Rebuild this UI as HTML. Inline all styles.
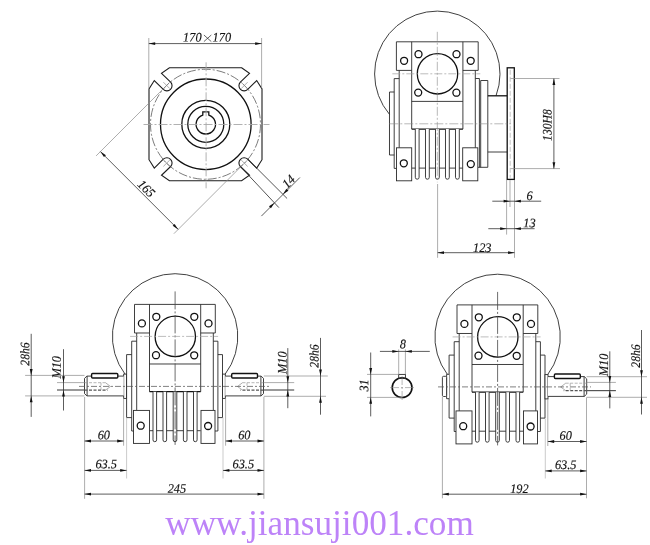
<!DOCTYPE html>
<html><head><meta charset="utf-8"><title>drawing</title>
<style>
html,body{margin:0;padding:0;background:#fff;}
body{width:650px;height:545px;overflow:hidden;position:relative;font-family:"Liberation Serif",serif;}
svg{position:absolute;left:0;top:0;will-change:transform;}
.k{fill:none;stroke:#2a2a2a;stroke-width:0.9;}
.kt{fill:none;stroke:#1c1c1c;stroke-width:1.1;}
.k2{fill:none;stroke:#2a2a2a;stroke-width:0.8;}
.kf{fill:#fff;stroke:#2a2a2a;stroke-width:0.9;}
.t{fill:none;stroke:#111;stroke-width:1.3;}
.tf{fill:#fff;stroke:#111;stroke-width:1.4;}
.t2{fill:none;stroke:#111;stroke-width:1.6;}
.x{fill:none;stroke:#222;stroke-width:0.7;}
.n{fill:none;stroke:#8a8a8a;stroke-width:0.7;}
.n2{fill:none;stroke:#b5b5b5;stroke-width:0.7;}
.m{fill:none;stroke:#555;stroke-width:1.2;}
.d{fill:none;stroke:#333;stroke-width:0.8;}
.a{fill:#111;stroke:none;}
.c{fill:none;stroke:#888;stroke-width:0.6;stroke-dasharray:9 2 2 2;}
.cv{fill:none;stroke:#484848;stroke-width:0.8;stroke-dasharray:18 2 2 2;}
.c2{fill:none;stroke:#a0a0a0;stroke-width:0.7;stroke-dasharray:8 2 2 2;}
.c3{fill:none;stroke:#a8a8a8;stroke-width:0.9;stroke-dasharray:9 2 2 2;}
.cw{fill:none;stroke:#555;stroke-width:0.75;stroke-dasharray:6 2 2 2;}
.cd{fill:none;stroke:#444;stroke-width:0.7;stroke-dasharray:9 2 2 2;}
.hd{fill:none;stroke:#aaa;stroke-width:0.7;stroke-dasharray:5 2;}
.hdl{fill:none;stroke:#999;stroke-width:0.7;stroke-dasharray:3 1.5;}
.hdk{fill:none;stroke:#555;stroke-width:1.1;stroke-dasharray:3 1.5;}
.hn{fill:none;stroke:#777;stroke-width:0.6;}
.tx{font-family:"Liberation Serif",serif;font-style:italic;fill:#111;stroke:#111;stroke-width:0.15;}
.wm{font-family:"Liberation Serif",serif;fill:#bd83f8;}
</style></head><body>
<svg width="650" height="545" viewBox="0 0 650 545">
<path class="kt" d="M241.60 67.80L249.50 73.30L240.35 82.10A5.2 5.2 0 0 0 247.70 89.45L256.70 80.50L262.00 88.90L262.00 159.70L256.70 168.10L247.70 159.15A5.2 5.2 0 0 0 240.35 166.50L249.50 175.30L241.60 180.80L169.40 180.80L161.50 175.30L170.65 166.50A5.2 5.2 0 0 0 163.30 159.15L154.30 168.10L149.00 159.70L149.00 88.90L154.30 80.50L163.30 89.45A5.2 5.2 0 0 0 170.65 82.10L161.50 73.30L169.40 67.80Z"/>
<circle class="cd" cx="205.50" cy="124.30" r="55.00"/>
<circle class="t" cx="205.80" cy="124.30" r="45.30"/>
<circle class="t" cx="205.80" cy="124.30" r="24.00"/>
<circle class="t" cx="205.80" cy="124.30" r="18.00"/>
<path class="t" d="M202.80 115.08L202.80 111.90L208.80 111.90L208.80 115.08A9.7 9.7 0 1 1 202.80 115.08Z"/>
<path class="c3" d="M206.10 62.30L206.10 188.30"/>
<path class="c3" d="M143.50 124.50L269.50 124.50"/>
<path class="n" d="M241.20 88.60L247.60 82.20"/>
<path class="n" d="M241.20 82.20L247.60 88.60"/>
<path class="n" d="M241.20 160.00L247.60 166.40"/>
<path class="n" d="M169.80 160.00L163.40 166.40"/>
<path class="n" d="M169.80 166.40L163.40 160.00"/>
<path class="n" d="M169.80 88.60L163.40 82.20"/>
<path class="n" d="M148.80 38.00L148.80 88.30"/>
<path class="n" d="M261.60 38.00L261.60 88.30"/>
<path class="d" d="M148.80 43.60L261.60 43.60"/>
<path class="a" d="M148.80 43.60L155.20 45.00L155.20 42.20Z"/>
<path class="a" d="M261.60 43.60L255.20 42.20L255.20 45.00Z"/>
<text class="tx" transform="translate(192.30 41.50) rotate(0.05) scale(0.95 1)" font-size="13.0" text-anchor="middle">170</text>
<text class="tx" transform="translate(221.80 41.50) rotate(0.05) scale(0.95 1)" font-size="13.0" text-anchor="middle">170</text>
<path class="x" d="M203.9 35.0L211.3 41.6M211.3 35.0L203.9 41.6"/>
<path class="n" d="M169.60 82.40L96.10 155.90"/>
<path class="n" d="M247.40 160.20L173.90 233.70"/>
<path class="d" d="M100.40 151.60L178.20 229.40"/>
<path class="a" d="M100.40 151.60L103.94 157.12L105.92 155.14Z"/>
<path class="a" d="M178.20 229.40L174.66 223.88L172.68 225.86Z"/>
<text class="tx" transform="translate(143.40 191.60) rotate(45.05) scale(0.95 1)" font-size="13.0" text-anchor="middle">165</text>
<path class="k2" d="M247.70 159.15L287.10 198.50"/>
<path class="k2" d="M240.35 166.50L278.90 207.60"/>
<path class="d" d="M261.40 216.10L299.90 177.50"/>
<path class="a" d="M282.90 194.30L288.42 190.76L286.44 188.78Z"/>
<path class="a" d="M274.50 202.70L268.98 206.24L270.96 208.22Z"/>
<text class="tx" transform="translate(291.60 184.60) rotate(-44.95) scale(0.95 1)" font-size="13.0" text-anchor="middle">14</text>
<g transform="translate(437.30 73.80)">
<path class="k" d="M-47.80 40.58A62.7 62.7 0 1 1 58.75 21.90"/>
<path class="k" d="M-25.60 -3.4L-40.90 -3.4L-40.90 -32L40.90 -32L40.90 -3.4L25.60 -3.4"/>
<path class="k" d="M-25.60 -32.00L-25.60 55.30"/>
<path class="k" d="M25.60 -32.00L25.60 55.30"/>
<path class="k" d="M-25.60 27.60L25.60 27.60"/>
<circle class="t" cx="0.20" cy="0.00" r="20.20"/>
<circle class="t" cx="-18.80" cy="-19.60" r="3.50"/>
<circle class="t" cx="19.20" cy="-19.60" r="3.50"/>
<circle class="t" cx="-33.20" cy="-13.00" r="3.50"/>
<circle class="t" cx="33.40" cy="-13.00" r="3.50"/>
<circle class="t" cx="-19.10" cy="18.80" r="3.50"/>
<circle class="t" cx="19.10" cy="18.90" r="3.50"/>
<path class="k" d="M-38.10 -3.40L-38.10 74.00"/>
<path class="k" d="M-38.10 4.8L-43.10 4.8L-43.10 94.6L-40.80 94.6"/>
<path class="k" d="M-43.10 18.2L-47.80 18.2L-47.80 81.2L-43.10 81.2"/>
<path class="k" d="M38.00 -3.40L38.00 74.00"/>
<path class="k" d="M38.0 4.7L42.1 4.7L42.1 93.5"/>
<path class="k" d="M43.4 93.5L43.4 6.7L50.5 6.7L50.5 93.5L40.5 93.5"/>
<path class="t" d="M50.50 22.00L69.80 22.00"/>
<path class="k" d="M50.50 78.20L69.80 78.20"/>
<rect class="t" x="69.90" y="-6.00" width="7.10" height="111.60"/>
<path class="hd" d="M72.90 -4.00L72.90 104.00"/>
<path class="t" d="M-25.60 55.30L25.60 55.30"/>
<path class="k" d="M-25.60 94.30L25.60 94.30"/>
<path class="kf" d="M-22.00 55.3L-22.00 103.5A1.9 1.9 0 0 0 -18.20 103.5L-18.20 55.3"/>
<path class="kf" d="M-11.80 55.3L-11.80 103.5A1.9 1.9 0 0 0 -8.00 103.5L-8.00 55.3"/>
<path class="kf" d="M-1.80 55.3L-1.80 103.5A1.9 1.9 0 0 0 2.00 103.5L2.00 55.3"/>
<path class="kf" d="M8.20 55.3L8.20 103.5A1.9 1.9 0 0 0 12.00 103.5L12.00 55.3"/>
<path class="kf" d="M18.20 55.3L18.20 103.5A1.9 1.9 0 0 0 22.00 103.5L22.00 55.3"/>
<rect class="kf" x="-40.80" y="74.00" width="15.20" height="33.00"/>
<rect class="kf" x="25.40" y="74.00" width="15.10" height="33.00"/>
<circle class="t" cx="-33.50" cy="89.50" r="3.50"/>
<circle class="t" cx="33.50" cy="90.30" r="3.50"/>
<path class="c" d="M0.00 -42.00L0.00 108.50"/>
<path class="c2" d="M-45.00 0.00L43.00 0.00"/>
</g>
<g transform="translate(175.10 336.40)">
<path class="k" d="M-50.00 37.83A62.7 62.7 0 1 1 50.00 37.83"/>
<path class="k" d="M-25.60 -3.4L-40.60 -3.4L-40.60 -32L40.20 -32L40.20 -3.4L25.60 -3.4"/>
<path class="k" d="M-25.60 -32.00L-25.60 55.30"/>
<path class="k" d="M25.60 -32.00L25.60 55.30"/>
<path class="k" d="M-25.60 27.60L25.60 27.60"/>
<circle class="t" cx="0.20" cy="0.00" r="20.20"/>
<circle class="t" cx="-18.80" cy="-19.60" r="3.50"/>
<circle class="t" cx="19.20" cy="-19.60" r="3.50"/>
<circle class="t" cx="-33.20" cy="-13.00" r="3.50"/>
<circle class="t" cx="33.40" cy="-13.00" r="3.50"/>
<circle class="t" cx="-19.10" cy="18.80" r="3.50"/>
<circle class="t" cx="19.10" cy="18.90" r="3.50"/>
<path class="k" d="M-38.40 -3.40L-38.40 74.00"/>
<path class="k" d="M-38.40 4.8L-43.40 4.8L-43.40 94.6L-41.60 94.6"/>
<path class="k" d="M-43.40 18.2L-48.50 18.2L-48.50 81.2L-43.40 81.2"/>
<path class="k" d="M38.20 -3.40L38.20 74.00"/>
<path class="k" d="M38.20 4.8L42.80 4.8L42.80 94.6L39.90 94.6"/>
<path class="k" d="M42.80 18.2L47.40 18.2L47.40 81.2L42.80 81.2"/>
<path class="t" d="M-25.60 55.30L25.60 55.30"/>
<path class="k" d="M-25.60 94.30L25.60 94.30"/>
<path class="kf" d="M-22.10 55.3L-22.10 103.5A1.8 1.8 0 0 0 -18.50 103.5L-18.50 55.3"/>
<path class="kf" d="M-12.10 55.3L-12.10 103.5A1.8 1.8 0 0 0 -8.50 103.5L-8.50 55.3"/>
<path class="kf" d="M-1.90 55.3L-1.90 103.5A1.8 1.8 0 0 0 1.70 103.5L1.70 55.3"/>
<path class="kf" d="M8.30 55.3L8.30 103.5A1.8 1.8 0 0 0 11.90 103.5L11.90 55.3"/>
<path class="kf" d="M18.40 55.3L18.40 103.5A1.8 1.8 0 0 0 22.00 103.5L22.00 55.3"/>
<rect class="kf" x="-41.60" y="74.00" width="16.00" height="33.00"/>
<rect class="kf" x="25.90" y="74.00" width="14.00" height="33.00"/>
<circle class="t" cx="-34.40" cy="89.30" r="3.50"/>
<circle class="t" cx="33.00" cy="89.60" r="3.50"/>
<path class="cv" d="M0.00 -45.00L0.00 108.50"/>
<path class="c2" d="M-45.00 0.00L43.00 0.00"/>
</g>
<g transform="translate(497.60 336.90)">
<path class="k" d="M-50.00 37.83A62.7 62.7 0 1 1 50.00 37.83"/>
<path class="k" d="M-25.60 -3.4L-40.60 -3.4L-40.60 -32L40.20 -32L40.20 -3.4L25.60 -3.4"/>
<path class="k" d="M-25.60 -32.00L-25.60 55.30"/>
<path class="k" d="M25.60 -32.00L25.60 55.30"/>
<path class="k" d="M-25.60 27.60L25.60 27.60"/>
<circle class="t" cx="0.20" cy="0.00" r="20.20"/>
<circle class="t" cx="-18.80" cy="-19.60" r="3.50"/>
<circle class="t" cx="19.20" cy="-19.60" r="3.50"/>
<circle class="t" cx="-33.20" cy="-13.00" r="3.50"/>
<circle class="t" cx="33.40" cy="-13.00" r="3.50"/>
<circle class="t" cx="-19.10" cy="18.80" r="3.50"/>
<circle class="t" cx="19.10" cy="18.90" r="3.50"/>
<path class="k" d="M-38.40 -3.40L-38.40 74.00"/>
<path class="k" d="M-38.40 4.8L-43.40 4.8L-43.40 94.6L-41.60 94.6"/>
<path class="k" d="M-43.40 18.2L-48.50 18.2L-48.50 81.2L-43.40 81.2"/>
<path class="k" d="M38.20 -3.40L38.20 74.00"/>
<path class="k" d="M38.20 4.8L42.80 4.8L42.80 94.6L39.90 94.6"/>
<path class="k" d="M42.80 18.2L47.40 18.2L47.40 81.2L42.80 81.2"/>
<path class="t" d="M-25.60 55.30L25.60 55.30"/>
<path class="k" d="M-25.60 94.30L25.60 94.30"/>
<path class="kf" d="M-22.10 55.3L-22.10 103.5A1.8 1.8 0 0 0 -18.50 103.5L-18.50 55.3"/>
<path class="kf" d="M-12.10 55.3L-12.10 103.5A1.8 1.8 0 0 0 -8.50 103.5L-8.50 55.3"/>
<path class="kf" d="M-1.90 55.3L-1.90 103.5A1.8 1.8 0 0 0 1.70 103.5L1.70 55.3"/>
<path class="kf" d="M8.30 55.3L8.30 103.5A1.8 1.8 0 0 0 11.90 103.5L11.90 55.3"/>
<path class="kf" d="M18.40 55.3L18.40 103.5A1.8 1.8 0 0 0 22.00 103.5L22.00 55.3"/>
<rect class="kf" x="-41.60" y="74.00" width="16.00" height="33.00"/>
<rect class="kf" x="25.90" y="74.00" width="14.00" height="33.00"/>
<circle class="t" cx="-34.40" cy="89.30" r="3.50"/>
<circle class="t" cx="33.00" cy="89.60" r="3.50"/>
<path class="cv" d="M0.00 -45.00L0.00 108.50"/>
<path class="c2" d="M-45.00 0.00L43.00 0.00"/>
</g>
<path class="c" d="M389.30 123.80L511.00 123.80"/>
<path class="n" d="M437.60 184.00L437.60 257.80"/>
<path class="n" d="M510.50 78.50L559.50 78.50"/>
<path class="n" d="M510.50 168.60L560.00 168.60"/>
<path class="d" d="M553.90 78.50L553.90 168.60"/>
<path class="a" d="M553.90 78.50L552.50 84.90L555.30 84.90Z"/>
<path class="a" d="M553.90 168.60L555.30 162.20L552.50 162.20Z"/>
<text class="tx" transform="translate(551.60 125.00) rotate(-89.95) scale(0.9 1)" font-size="13.0" text-anchor="middle">130H8</text>
<path class="n" d="M506.60 180.00L506.60 234.60"/>
<path class="n" d="M510.00 180.00L510.00 207.00"/>
<path class="n" d="M514.50 180.00L514.50 257.80"/>
<path class="d" d="M492.30 201.20L541.20 201.20"/>
<path class="a" d="M510.00 201.20L503.60 199.80L503.60 202.60Z"/>
<path class="a" d="M514.50 201.20L520.90 202.60L520.90 199.80Z"/>
<text class="tx" transform="translate(529.50 200.10) rotate(0.05) scale(0.95 1)" font-size="13.0" text-anchor="middle">6</text>
<path class="d" d="M488.30 228.70L534.60 228.70"/>
<path class="a" d="M506.60 228.70L500.20 227.30L500.20 230.10Z"/>
<path class="a" d="M514.50 228.70L520.90 230.10L520.90 227.30Z"/>
<text class="tx" transform="translate(529.50 227.30) rotate(0.05) scale(0.95 1)" font-size="13.0" text-anchor="middle">13</text>
<path class="d" d="M437.60 252.70L514.50 252.70"/>
<path class="a" d="M437.60 252.70L444.00 254.10L444.00 251.30Z"/>
<path class="a" d="M514.50 252.70L508.10 251.30L508.10 254.10Z"/>
<text class="tx" transform="translate(482.20 252.00) rotate(0.05) scale(0.95 1)" font-size="13.0" text-anchor="middle">123</text>
<g transform="translate(175.10 336.40) scale(1 1)">
<rect class="kf" x="47.40" y="37.70" width="2.80" height="24.30"/>
<path class="kf" d="M50.2 39.7L86.00 39.7L88.40 42.0L88.40 57.2L86.00 59.5L50.2 59.5"/>
<path class="k" d="M85.80 39.70L85.80 59.50"/>
<rect class="tf" x="56.60" y="37.10" width="25.80" height="4.50" rx="1.0"/>
<path class="hdl" d="M88.40 46.30L67.40 46.30"/>
<path class="hdk" d="M88.40 53.70L65.40 53.70"/>
<path class="hn" d="M67.40 46.3L62.40 50.1L67.40 53.7"/>
<path class="hdl" d="M71.90 46.30L71.90 53.70"/>
</g>
<g transform="translate(174.50 336.40) scale(-1 1)">
<rect class="kf" x="48.00" y="37.70" width="2.80" height="24.30"/>
<path class="kf" d="M50.8 39.7L87.60 39.7L90.00 42.0L90.00 57.2L87.60 59.5L50.8 59.5"/>
<path class="k" d="M87.40 39.70L87.40 59.50"/>
<rect class="tf" x="56.70" y="37.10" width="26.20" height="4.50" rx="1.0"/>
<path class="hdl" d="M90.00 46.30L69.00 46.30"/>
<path class="hdk" d="M90.00 53.70L67.00 53.70"/>
<path class="hn" d="M69.00 46.3L64.00 50.1L69.00 53.7"/>
<path class="hdl" d="M73.50 46.30L73.50 53.70"/>
</g>
<path class="cw" d="M79.00 386.40L269.00 386.40"/>
<path class="n" d="M25.10 375.40L84.50 375.40"/>
<path class="n" d="M25.10 395.90L84.50 395.90"/>
<path class="d" d="M31.20 333.80L31.20 416.90"/>
<path class="a" d="M31.20 375.40L32.60 369.00L29.80 369.00Z"/>
<path class="a" d="M31.20 395.90L29.80 402.30L32.60 402.30Z"/>
<text class="tx" transform="translate(29.30 354.00) rotate(-89.95) scale(0.9 1)" font-size="13.0" text-anchor="middle">28h6</text>
<path class="n" d="M57.00 382.60L84.50 382.60"/>
<path class="m" d="M57.00 390.00L84.50 390.00"/>
<path class="d" d="M63.50 349.20L63.50 410.50"/>
<path class="a" d="M63.50 382.60L64.90 376.20L62.10 376.20Z"/>
<path class="a" d="M63.50 390.20L62.10 396.60L64.90 396.60Z"/>
<text class="tx" transform="translate(60.80 367.30) rotate(-89.95) scale(0.95 1)" font-size="13.0" text-anchor="middle">M10</text>
<path class="n" d="M263.80 376.00L327.80 376.00"/>
<path class="n" d="M263.80 396.30L326.00 396.30"/>
<path class="d" d="M320.50 337.90L320.50 414.70"/>
<path class="a" d="M320.50 376.00L321.90 369.60L319.10 369.60Z"/>
<path class="a" d="M320.50 396.30L319.10 402.70L321.90 402.70Z"/>
<text class="tx" transform="translate(318.60 356.00) rotate(-89.95) scale(0.9 1)" font-size="13.0" text-anchor="middle">28h6</text>
<path class="n" d="M263.80 382.60L294.20 382.60"/>
<path class="m" d="M263.80 390.00L294.20 390.00"/>
<path class="d" d="M287.80 348.10L287.80 408.20"/>
<path class="a" d="M287.80 382.60L289.20 376.20L286.40 376.20Z"/>
<path class="a" d="M287.80 390.00L286.40 396.40L289.20 396.40Z"/>
<text class="tx" transform="translate(286.50 362.70) rotate(-89.95) scale(0.95 1)" font-size="13.0" text-anchor="middle">M10</text>
<path class="n" d="M84.60 397.00L84.60 498.80"/>
<path class="n" d="M263.90 397.00L263.90 498.80"/>
<path class="n" d="M123.60 398.50L123.60 445.70"/>
<path class="n2" d="M126.60 417.60L126.60 478.50"/>
<path class="n" d="M225.60 398.50L225.60 445.70"/>
<path class="n2" d="M223.00 417.60L223.00 478.50"/>
<path class="d" d="M84.60 441.00L123.60 441.00"/>
<path class="a" d="M84.60 441.00L91.00 442.40L91.00 439.60Z"/>
<path class="a" d="M123.60 441.00L117.20 439.60L117.20 442.40Z"/>
<text class="tx" transform="translate(103.80 439.20) rotate(0.05) scale(0.95 1)" font-size="13.0" text-anchor="middle">60</text>
<path class="d" d="M84.60 470.40L126.60 470.40"/>
<path class="a" d="M84.60 470.40L91.00 471.80L91.00 469.00Z"/>
<path class="a" d="M126.60 470.40L120.20 469.00L120.20 471.80Z"/>
<text class="tx" transform="translate(106.20 468.30) rotate(0.05) scale(0.95 1)" font-size="13.0" text-anchor="middle">63.5</text>
<path class="d" d="M225.60 441.00L263.90 441.00"/>
<path class="a" d="M225.60 441.00L232.00 442.40L232.00 439.60Z"/>
<path class="a" d="M263.90 441.00L257.50 439.60L257.50 442.40Z"/>
<text class="tx" transform="translate(244.30 439.20) rotate(0.05) scale(0.95 1)" font-size="13.0" text-anchor="middle">60</text>
<path class="d" d="M223.00 470.40L263.90 470.40"/>
<path class="a" d="M223.00 470.40L229.40 471.80L229.40 469.00Z"/>
<path class="a" d="M263.90 470.40L257.50 469.00L257.50 471.80Z"/>
<text class="tx" transform="translate(243.30 468.30) rotate(0.05) scale(0.95 1)" font-size="13.0" text-anchor="middle">63.5</text>
<path class="d" d="M84.60 494.10L263.90 494.10"/>
<path class="a" d="M84.60 494.10L91.00 495.50L91.00 492.70Z"/>
<path class="a" d="M263.90 494.10L257.50 492.70L257.50 495.50Z"/>
<text class="tx" transform="translate(176.90 492.80) rotate(0.05) scale(0.95 1)" font-size="13.0" text-anchor="middle">245</text>
<g transform="translate(497.60 336.90) scale(1 1)">
<rect class="kf" x="47.40" y="37.70" width="3.00" height="24.30"/>
<path class="kf" d="M50.4 39.7L86.70 39.7L89.10 42.0L89.10 57.2L86.70 59.5L50.4 59.5"/>
<path class="k" d="M86.50 39.70L86.50 59.50"/>
<rect class="tf" x="56.80" y="37.10" width="25.90" height="4.50" rx="1.0"/>
<path class="hdl" d="M89.10 46.30L68.10 46.30"/>
<path class="hdk" d="M89.10 53.70L66.10 53.70"/>
<path class="hn" d="M68.10 46.3L63.10 50.1L68.10 53.7"/>
<path class="hdl" d="M72.60 46.30L72.60 53.70"/>
</g>
<path class="kf" d="M449.10 374.30L446.60 374.30L446.60 398.70L449.10 398.70"/>
<rect class="kf" x="442.40" y="376.30" width="4.20" height="20.20" rx="1.2"/>
<path class="cw" d="M438.00 386.90L591.00 386.90"/>
<path class="n" d="M586.60 376.70L647.00 376.70"/>
<path class="n" d="M586.60 397.30L647.00 397.30"/>
<path class="d" d="M641.50 330.00L641.50 414.50"/>
<path class="a" d="M641.50 376.70L642.90 370.30L640.10 370.30Z"/>
<path class="a" d="M641.50 397.30L640.10 403.70L642.90 403.70Z"/>
<text class="tx" transform="translate(640.00 356.00) rotate(-89.95) scale(0.9 1)" font-size="13.0" text-anchor="middle">28h6</text>
<path class="n" d="M586.60 382.40L615.90 382.40"/>
<path class="m" d="M586.60 390.60L615.90 390.60"/>
<path class="d" d="M609.80 351.30L609.80 408.40"/>
<path class="a" d="M609.80 382.40L611.20 376.00L608.40 376.00Z"/>
<path class="a" d="M609.80 390.60L608.40 397.00L611.20 397.00Z"/>
<text class="tx" transform="translate(608.00 365.00) rotate(-89.95) scale(0.95 1)" font-size="13.0" text-anchor="middle">M10</text>
<path class="n" d="M442.40 397.00L442.40 498.30"/>
<path class="n" d="M586.50 397.50L586.50 498.30"/>
<path class="n" d="M547.80 399.00L547.80 446.00"/>
<path class="n2" d="M545.30 418.60L545.30 478.50"/>
<path class="d" d="M547.80 441.50L586.50 441.50"/>
<path class="a" d="M547.80 441.50L554.20 442.90L554.20 440.10Z"/>
<path class="a" d="M586.50 441.50L580.10 440.10L580.10 442.90Z"/>
<text class="tx" transform="translate(565.70 439.80) rotate(0.05) scale(0.95 1)" font-size="13.0" text-anchor="middle">60</text>
<path class="d" d="M545.30 470.90L586.50 470.90"/>
<path class="a" d="M545.30 470.90L551.70 472.30L551.70 469.50Z"/>
<path class="a" d="M586.50 470.90L580.10 469.50L580.10 472.30Z"/>
<text class="tx" transform="translate(565.70 469.00) rotate(0.05) scale(0.95 1)" font-size="13.0" text-anchor="middle">63.5</text>
<path class="d" d="M442.40 494.20L586.50 494.20"/>
<path class="a" d="M442.40 494.20L448.80 495.60L448.80 492.80Z"/>
<path class="a" d="M586.50 494.20L580.10 492.80L580.10 495.60Z"/>
<text class="tx" transform="translate(519.40 493.00) rotate(0.05) scale(0.95 1)" font-size="13.0" text-anchor="middle">192</text>
<circle class="t2" cx="402.10" cy="387.60" r="9.90"/>
<rect class="k" x="398.70" y="374.40" width="6.70" height="4.10"/>
<path class="c" d="M390.00 387.60L414.00 387.60"/>
<path class="c" d="M402.10 376.00L402.10 400.00"/>
<path class="n" d="M398.70 349.40L398.70 374.40"/>
<path class="n" d="M405.40 349.40L405.40 374.40"/>
<path class="d" d="M379.90 351.40L429.80 351.40"/>
<path class="a" d="M398.70 351.40L392.30 350.00L392.30 352.80Z"/>
<path class="a" d="M405.40 351.40L411.80 352.80L411.80 350.00Z"/>
<text class="tx" transform="translate(402.80 348.30) rotate(0.05) scale(0.95 1)" font-size="13.0" text-anchor="middle">8</text>
<path class="n" d="M367.00 374.40L398.70 374.40"/>
<path class="n" d="M367.00 397.40L402.00 397.40"/>
<path class="d" d="M370.70 352.50L370.70 416.40"/>
<path class="a" d="M370.70 374.40L372.10 368.00L369.30 368.00Z"/>
<path class="a" d="M370.70 397.40L369.30 403.80L372.10 403.80Z"/>
<text class="tx" transform="translate(368.20 385.40) rotate(-89.95) scale(0.95 1)" font-size="13.0" text-anchor="middle">31</text>
<text class="wm" x="165.3" y="534.5" font-size="35.2">www.jiansuji001.com</text>
</svg>
</body></html>
